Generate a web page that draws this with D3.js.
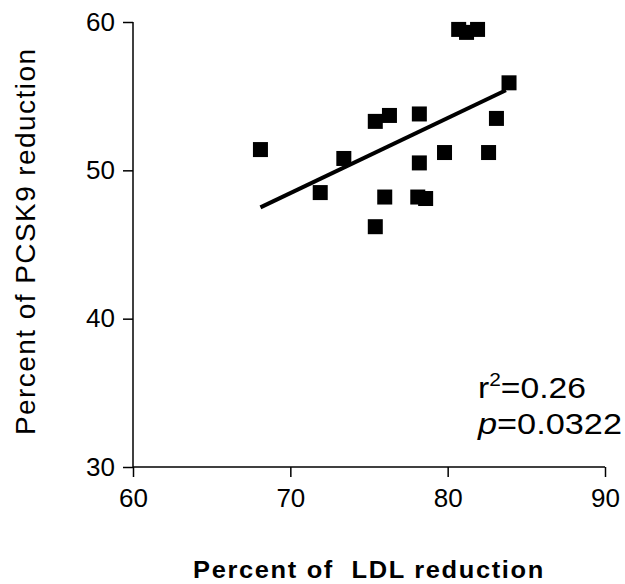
<!DOCTYPE html>
<html>
<head>
<meta charset="utf-8">
<script src="https://cdn.jsdelivr.net/npm/d3@7"></script>
<style>
  body { margin: 0; background: #fff; }
  svg text { font-family: "Liberation Sans", Arial, sans-serif; fill: #000; }
</style>
</head>
<body>
<script>
// LDL reduction (%) vs PCSK9 reduction (%)
var ldlValues = [68.1, 71.9, 73.4, 75.4, 76.3, 75.4, 76.0, 78.2, 78.2, 78.1, 78.6,
                 79.8, 80.7, 81.2, 81.9, 82.6, 83.1, 83.9];
var pcsk9Values = [51.4, 48.5, 50.8, 53.3, 53.7, 46.2, 48.2, 53.8, 50.5, 48.2, 48.1,
                   51.2, 59.5, 59.3, 59.5, 51.2, 53.5, 55.9];
var fitX = [68.1, 83.7];
var fitY = [47.5, 55.4];
var xTicks = [60, 70, 80, 90];
var yTicks = [30, 40, 50, 60];

var width = 625, height = 584;
var svg = d3.select( "body" ).append( "svg" )
  .attr( "width", width ).attr( "height", height );

var x = d3.scaleLinear().domain( [ 60, 90 ] ).range( [ 133, 605 ] );
var y = d3.scaleLinear().domain( [ 30, 60 ] ).range( [ 467, 22 ] );

var xAxis = svg.append( "g" )
  .attr( "transform", "translate(0," + y( 30 ) + ")" )
  .call( d3.axisBottom( x ).tickValues( xTicks ).tickSize( 10 ).tickPadding( 12 ) );
var yAxis = svg.append( "g" )
  .attr( "transform", "translate(" + x( 60 ) + ",0)" )
  .call( d3.axisLeft( y ).tickValues( yTicks ).tickSize( 10 ).tickPadding( 8 ) );

[ xAxis, yAxis ].forEach( function( g ) {
  g.select( ".domain" ).attr( "stroke", "#000" ).attr( "stroke-width", 1.5 );
  g.selectAll( ".tick line" ).attr( "stroke", "#000" ).attr( "stroke-width", 1.5 );
  g.selectAll( ".tick text" )
    .style( "font-family", "Liberation Sans, Arial, sans-serif" )
    .style( "font-size", "26px" ).attr( "fill", "#000" );
} );
xAxis.selectAll( ".domain" ).attr( "d", "M" + x( 60 ) + ",0H" + x( 90 ) );
yAxis.selectAll( ".domain" ).attr( "d", "M0," + y( 30 ) + "V" + y( 60 ) );

// regression line
svg.append( "line" )
  .attr( "x1", x( fitX[ 0 ] ) ).attr( "y1", y( fitY[ 0 ] ) )
  .attr( "x2", x( fitX[ 1 ] ) ).attr( "y2", y( fitY[ 1 ] ) )
  .attr( "stroke", "#000" ).attr( "stroke-width", 4 );

// points
var size = 15;
svg.append( "g" ).selectAll( "rect" )
  .data( ldlValues )
  .enter().append( "rect" )
  .attr( "x", function( d ) { return x( d ) - size / 2; } )
  .attr( "y", function( d, i ) { return y( pcsk9Values[ i ] ) - size / 2; } )
  .attr( "width", size ).attr( "height", size )
  .attr( "fill", "#000" );

// axis titles
svg.append( "text" )
  .attr( "x", 193 ).attr( "y", 578 )
  .attr( "textLength", 352 ).attr( "lengthAdjust", "spacingAndGlyphs" )
  .style( "font-size", "23px" ).style( "font-weight", "bold" )
  .style( "letter-spacing", "1.5px" ).style( "white-space", "pre" )
  .text( "Percent of  LDL reduction" );

svg.append( "text" )
  .attr( "transform", "translate(35,435) rotate(-90)" )
  .attr( "textLength", 386 ).attr( "lengthAdjust", "spacing" )
  .style( "font-size", "28px" )
  .text( "Percent of PCSK9 reduction" );

// statistics
var stats = svg.append( "g" ).style( "font-size", "29px" );
var r2 = stats.append( "text" ).attr( "x", 478 ).attr( "y", 398 )
  .attr( "textLength", 108 ).attr( "lengthAdjust", "spacingAndGlyphs" );
r2.append( "tspan" ).text( "r" );
r2.append( "tspan" ).attr( "dy", -12 ).style( "font-size", "18px" ).text( "2" );
r2.append( "tspan" ).attr( "dy", 12 ).text( "=0.26" );
var p = stats.append( "text" ).attr( "x", 478 ).attr( "y", 434 )
  .attr( "textLength", 144 ).attr( "lengthAdjust", "spacingAndGlyphs" );
p.append( "tspan" ).style( "font-style", "italic" ).text( "p" );
p.append( "tspan" ).text( "=0.0322" );
</script>
</body>
</html>
